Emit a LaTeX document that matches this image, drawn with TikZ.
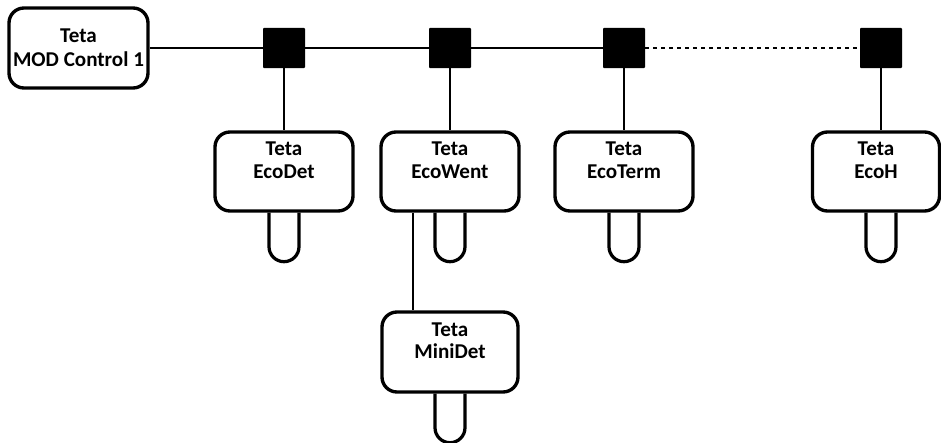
\documentclass[tikz,border=0pt]{standalone}
\usepackage{fontspec}
\setmainfont{Carlito}
\usetikzlibrary{calc,positioning}

% probe below a device box, #1 gives x, #2 the box
\newcommand\probe[2]{\draw[line width=2.3pt] (#1 |- #2.south) ++(-15,0) -- ++(0,-34) arc (180:360:3.75mm) -- ++(0,34);}

\begin{document}
\begin{tikzpicture}[x=0.25mm,y=0.25mm,
  box/.style={draw,line width=2.4pt,rounded corners=3.75mm,inner sep=0pt,align=center,
    font=\fontsize{15}{16}\selectfont\bfseries,minimum width=34.5mm,minimum height=19.75mm},
  junction/.style={fill=black,rounded corners=0.6pt,minimum width=10.5mm,minimum height=10mm,inner sep=0pt},
  bus/.style={line width=2pt}]
\useasboundingbox (0,0) rectangle (941,-443);
\node[box,minimum width=34.75mm,minimum height=20mm,font=\fontsize{15}{17}\selectfont\bfseries] (ctrl) at (78.5,-48) {Teta\\MOD Control 1};
\node[junction] (j1) at (284,-48) {};
\node[junction] (j2) at (450,-48) {};
\node[junction] (j3) at (624,-48) {};
\node[junction] (j4) at (881,-48) {};
\node[box] (det) at (284,-171.5) {Teta\\EcoDet\\\mbox{}};
\node[box] (went) at (450,-171.5) {Teta\\EcoWent\\\mbox{}};
\node[box] (term) at (624,-171.5) {Teta\\EcoTerm\\\mbox{}};
\node[box,minimum width=31.75mm] (ecoh) at (876,-171.5) {Teta\\EcoH\\\mbox{}};
\node[box,minimum width=34mm,minimum height=20mm] (mini) at (450,-352) {Teta\\MiniDet\\\mbox{}};
% bus
\draw[bus] (ctrl) -- (j1) -- (j2) -- (j3);
\draw[bus,dash pattern=on 1mm off 1mm] (j3) -- (j4);
\draw[bus] (j1) -- (det);
\draw[bus] (j2) -- (went);
\draw[bus] (j3) -- (term);
\draw[bus] (j4.south) -- (j4 |- ecoh.north);
\draw[bus] ([xshift=-9.25mm]went.south) -- ([xshift=-9.25mm]went.south |- mini.north);
% probes
\probe{j1}{det}
\probe{j2}{went}
\probe{j3}{term}
\probe{j4}{ecoh}
\probe{went}{mini}
\end{tikzpicture}
\end{document}
